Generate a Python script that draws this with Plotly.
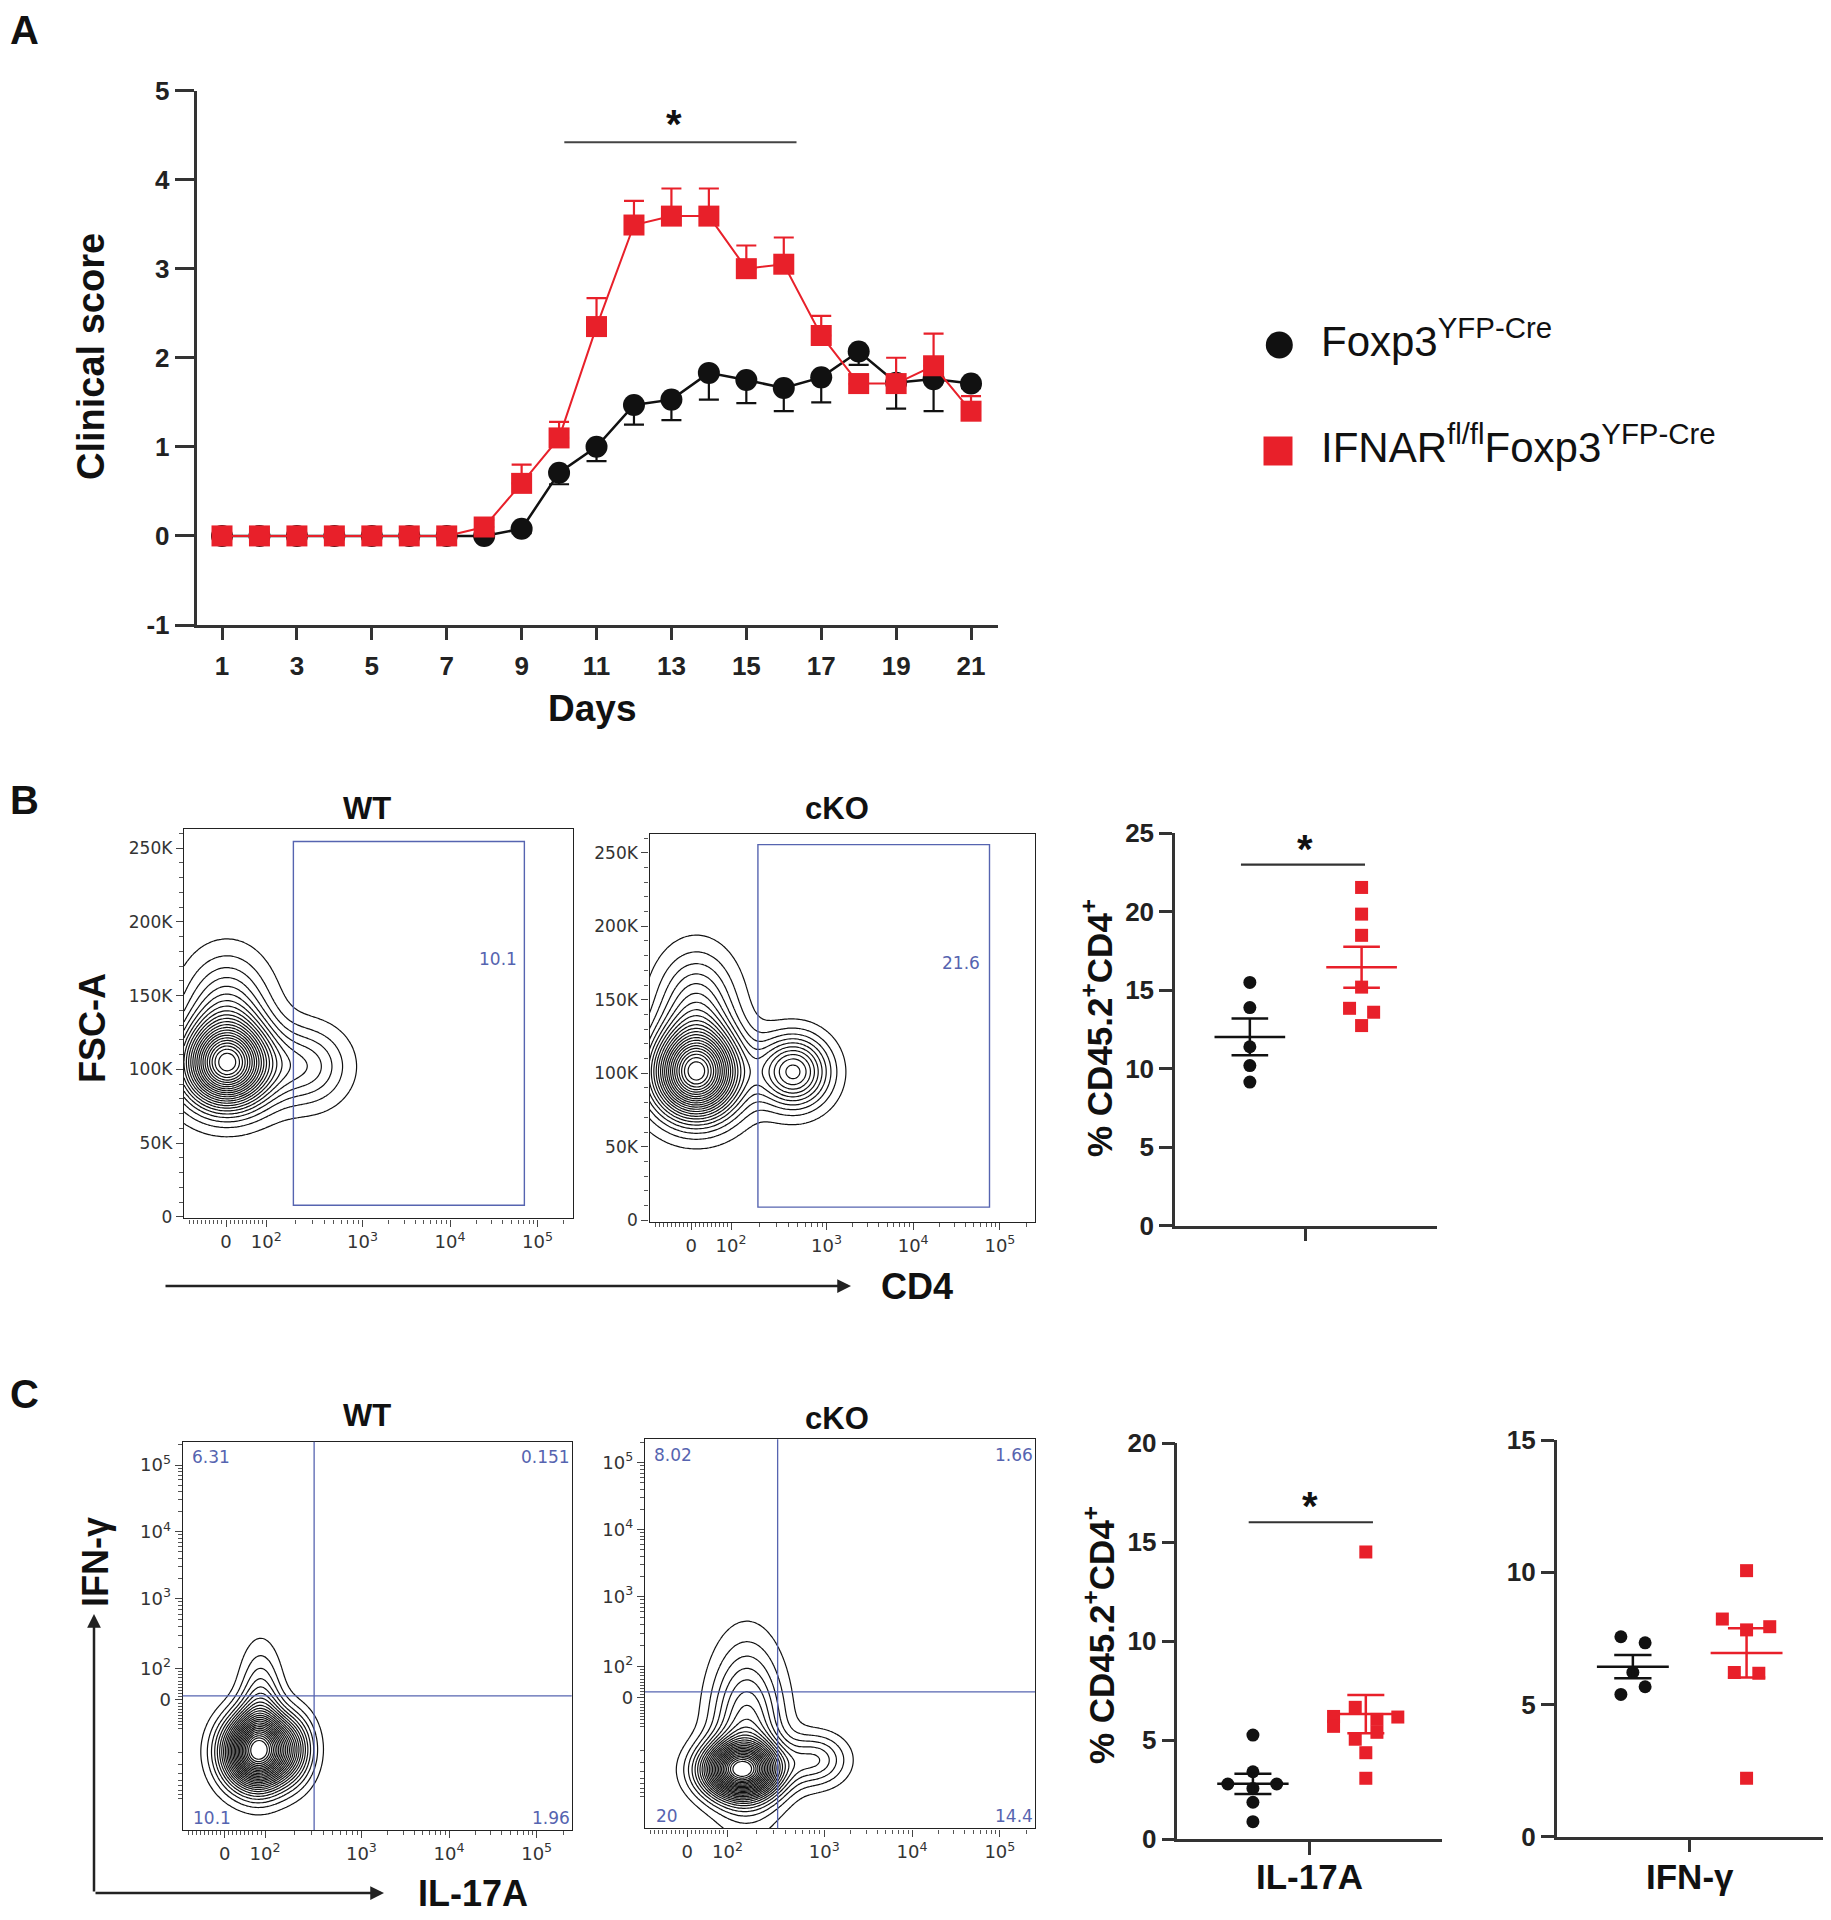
import numpy as np
import plotly.graph_objects as go

# page body has a default 8px margin; the figure is shrunk by it so it fits the 1831x1920 window
OFF = 8
FW, FH = 1831 - OFF, 1920 - OFF
def px(v): return (v - OFF) / FW
def py(v): return 1 - (v - OFF) / FH

# ---------------- Panel A : clinical score ----------------
days = list(range(1, 22))
foxp3_score = [0, 0, 0, 0, 0, 0, 0, 0.00, 0.08, 0.71, 1.00, 1.47, 1.53, 1.83, 1.75, 1.66, 1.78, 2.07, 1.72, 1.76, 1.71]
foxp3_sem   = [0, 0, 0, 0, 0, 0, 0, 0.02, 0.05, 0.13, 0.16, 0.22, 0.23, 0.30, 0.26, 0.26, 0.28, 0.15, 0.29, 0.36, 0.05]
ifnar_score = [0, 0, 0, 0, 0, 0, 0, 0.10, 0.59, 1.10, 2.35, 3.49, 3.59, 3.59, 3.00, 3.05, 2.25, 1.71, 1.71, 1.91, 1.40]
ifnar_sem   = [0, 0, 0, 0, 0, 0, 0, 0.08, 0.21, 0.18, 0.32, 0.27, 0.31, 0.31, 0.26, 0.30, 0.22, 0.10, 0.29, 0.36, 0.17]
day_ticks = [1, 3, 5, 7, 9, 11, 13, 15, 17, 19, 21]
score_ticks = [-1, 0, 1, 2, 3, 4, 5]
sig_A_days = [10.14, 16.34]
sig_A_level = 4.42

# ---------------- Flow axes (display positions of the biexponential scale) ----------------
flow_x_tick_pos = [1.44, 1.90, 3.0, 4.0, 5.0]
flow_log_labels = ["0", "10<sup>2</sup>", "10<sup>3</sup>", "10<sup>4</sup>", "10<sup>5</sup>"]
flow_c_y_tick_pos = [1.48, 1.95, 3.0, 4.0, 5.0]
fsc_ticks = [0, 50000, 100000, 150000, 200000, 250000]
fsc_labels = ["0", "50K", "100K", "150K", "200K", "250K"]

# density components of the contour plots: (centre x, centre y, sd x, sd y, weight)
b_wt_components = [(1.45, 103e3, 0.33, 19e3, 1.0), (1.45, 140e3, 0.32, 25e3, 0.25), (2.35, 102e3, 0.32, 18e3, 0.20)]
b_ko_components = [(1.50, 100e3, 0.33, 20e3, 1.0), (1.50, 145e3, 0.30, 25e3, 0.25), (2.62, 101e3, 0.27, 16e3, 0.45)]
c_wt_components = [(1.80, 0.70, 0.25, 0.36, 1.0), (2.20, 0.75, 0.18, 0.35, 0.25), (1.85, 1.30, 0.16, 0.60, 0.22)]
c_ko_components = [(2.05, 0.40, 0.29, 0.27, 1.0), (2.90, 0.55, 0.24, 0.26, 0.22), (2.12, 1.00, 0.27, 0.80, 0.35)]

b_gates = {"WT": (2.21, 4.85, 7800, 254500), "cKO": (2.21, 4.88, 9000, 255500)}
b_gate_pct = {"WT": "10.1", "cKO": "21.6"}
c_quads = {"WT": (2.46, 1.54), "cKO": (2.47, 1.57)}
c_quad_pct = {"WT": ["6.31", "0.151", "10.1", "1.96"], "cKO": ["8.02", "1.66", "20", "14.4"]}

# ---------------- Dot plots ----------------
b_wt = [15.5, 13.9, 11.4, 10.2, 9.15]
b_wt_dx = [0, 0, 0, 0, 0]
b_ko = [21.55, 19.85, 18.5, 15.2, 13.85, 13.6, 12.75]
b_ko_dx = [0, 0, 0, 0, -0.046, 0.046, 0]
il_wt = [5.26, 3.41, 2.79, 2.79, 2.57, 1.87, 0.89]
il_wt_dx = [0, 0, -0.095, 0.09, 0, 0, 0]
il_ko = [14.5, 6.66, 6.2, 5.7, 6.05, 5.4, 6.17, 5.05, 4.37, 3.08]
il_ko_dx = [0, -0.04, -0.122, -0.122, 0.042, 0.042, 0.121, -0.04, 0, 0]
ifn_wt = [7.56, 7.33, 6.21, 5.38, 5.67]
ifn_wt_dx = [-0.045, 0.046, 0, -0.045, 0.046]
ifn_ko = [10.06, 8.23, 7.82, 7.94, 6.21, 6.18, 2.21]
ifn_ko_dx = [0, -0.091, 0, 0.087, -0.046, 0.046, 0]

BLACK = "#111111"
RED = "#e8202a"
GATE = "#5664b0"
AXC = "#333333"
FONT = "Liberation Sans, Arial, sans-serif"
FLOWFONT = "DejaVu Sans, Verdana, sans-serif"

fig = go.Figure()

# ---- Panel A traces ----
fig.add_trace(go.Scatter(
    x=days, y=foxp3_score, mode="lines+markers", xaxis="x", yaxis="y",
    line=dict(color=BLACK, width=2.5),
    marker=dict(symbol="circle", size=22, color=BLACK),
    error_y=dict(type="data", symmetric=False, array=[0] * len(days), arrayminus=foxp3_sem,
                 color=BLACK, thickness=2.2, width=10),
    showlegend=False, hoverinfo="skip", cliponaxis=False))
fig.add_trace(go.Scatter(
    x=days, y=ifnar_score, mode="lines+markers", xaxis="x", yaxis="y",
    line=dict(color=RED, width=2),
    marker=dict(symbol="square", size=21, color=RED),
    error_y=dict(type="data", symmetric=False, array=ifnar_sem, arrayminus=[0] * len(days),
                 color=RED, thickness=2.2, width=10),
    showlegend=False, hoverinfo="skip", cliponaxis=False))

# ---- Contour plots ----
def density(comps, xs, ys):
    X, Y = np.meshgrid(xs, ys)
    Z = np.zeros_like(X)
    for cx, cy, sx, sy, w in comps:
        Z += w * np.exp(-0.5 * (((X - cx) / sx) ** 2 + ((Y - cy) / sy) ** 2))
    return Z / Z.max()

xs_flow = np.linspace(0.96, 5.40, 220)
ys_fsc = np.linspace(-1000, 263000, 220)
ys_c = np.linspace(-0.47, 5.35, 220)

def contour(comps, xs, ys, xa, ya, step):
    return go.Contour(x=xs, y=ys, z=density(comps, xs, ys), xaxis=xa, yaxis=ya,
                      contours=dict(coloring="lines", start=0.035, end=0.97, size=step),
                      colorscale=[[0, BLACK], [1, BLACK]], showscale=False,
                      line=dict(width=1.2, smoothing=1.0), hoverinfo="skip")

fig.add_trace(contour(b_wt_components, xs_flow, ys_fsc, "x2", "y2", 0.042))
fig.add_trace(contour(b_ko_components, xs_flow, ys_fsc, "x3", "y3", 0.042))
fig.add_trace(contour(c_wt_components, xs_flow, ys_c, "x5", "y5", 0.036))
fig.add_trace(contour(c_ko_components, xs_flow, ys_c, "x6", "y6", 0.036))

# ---- Dot plots ----
def dot_group(vals, dx, center, color, symbol, xa, ya):
    v = np.array(vals, dtype=float)
    m = v.mean()
    s = v.std(ddof=1) / np.sqrt(len(v))
    fig.add_trace(go.Scatter(x=[center + d for d in dx], y=vals, mode="markers", xaxis=xa, yaxis=ya,
                             marker=dict(symbol=symbol, size=13, color=color),
                             showlegend=False, hoverinfo="skip", cliponaxis=False))
    hw, cw = 0.135, 0.07
    fig.add_trace(go.Scatter(
        x=[center - hw, center + hw, None, center - cw, center + cw, None,
           center - cw, center + cw, None, center, center],
        y=[m, m, None, m + s, m + s, None, m - s, m - s, None, m - s, m + s],
        mode="lines", xaxis=xa, yaxis=ya, line=dict(color=color, width=2.5),
        showlegend=False, hoverinfo="skip", cliponaxis=False))

WT_C, KO_C = 0.286, 0.713
dot_group(b_wt, b_wt_dx, WT_C, BLACK, "circle", "x4", "y4")
dot_group(b_ko, b_ko_dx, KO_C, RED, "square", "x4", "y4")
dot_group(il_wt, il_wt_dx, WT_C, BLACK, "circle", "x7", "y7")
dot_group(il_ko, il_ko_dx, KO_C, RED, "square", "x7", "y7")
dot_group(ifn_wt, ifn_wt_dx, WT_C, BLACK, "circle", "x8", "y8")
dot_group(ifn_ko, ifn_ko_dx, KO_C, RED, "square", "x8", "y8")

# ---------------- Axes ----------------
def dom_x(a, b): return [px(a), px(b)]
def dom_y(top, bottom): return [py(bottom), py(top)]

def minor_log(pos_by_decade, extra=()):
    out = list(extra)
    decs = sorted(pos_by_decade)
    for i in range(len(decs) - 1):
        d0, d1 = decs[i], decs[i + 1]
        p0, p1 = pos_by_decade[d0], pos_by_decade[d1]
        for k in range(2, 10):
            out.append(p0 + (p1 - p0) * np.log10(k))
    return out

x_dec = {2: 1.90, 3: 3.0, 4: 4.0, 5: 5.0, 6: 6.0}
x_lin = [1.44 + (1.90 - 1.44) * k / 10 for k in range(1, 10)] + [1.44 - (1.90 - 1.44) * k / 10 for k in range(1, 10)]
flow_x_minor = [v for v in minor_log(x_dec, x_lin) if 0.96 < v < 5.40]
y_dec = {2: 1.95, 3: 3.0, 4: 4.0, 5: 5.0, 6: 6.0}
y_lin = [1.48 + (1.95 - 1.48) * k / 10 for k in range(1, 10)] + [1.48 - (1.95 - 1.48) * k / 10 for k in range(1, 10)]
y_neg = [1.01 - 1.05 * np.log10(k) for k in range(2, 10)]
flow_y_minor = [v for v in minor_log(y_dec, y_lin + y_neg) if -0.47 < v < 5.35]

def flow_xaxis(domain, anchor):
    return dict(domain=domain, anchor=anchor, range=[0.96, 5.40], showline=True, linecolor="#222",
                linewidth=1.4, mirror=True, ticks="outside", ticklen=7, tickwidth=1.2, tickcolor="#444",
                tickvals=flow_x_tick_pos, ticktext=flow_log_labels,
                tickfont=dict(family=FLOWFONT, size=18, color="#333"),
                minor=dict(tickvals=flow_x_minor, ticklen=4, tickwidth=1, tickcolor="#555", ticks="outside"),
                showgrid=False, zeroline=False, automargin=False)

def flow_fsc_yaxis(domain, anchor):
    return dict(domain=domain, anchor=anchor, range=[-1000, 263000], showline=True, linecolor="#222",
                linewidth=1.4, mirror=True, ticks="outside", ticklen=7, tickwidth=1.2, tickcolor="#444",
                tickvals=fsc_ticks, ticktext=fsc_labels,
                tickfont=dict(family=FLOWFONT, size=17, color="#333"),
                minor=dict(tickvals=list(range(0, 260001, 10000)), ticklen=4, tickwidth=1,
                           tickcolor="#555", ticks="outside"),
                showgrid=False, zeroline=False, automargin=False)

def flow_log_yaxis(domain, anchor):
    return dict(domain=domain, anchor=anchor, range=[-0.47, 5.35], showline=True, linecolor="#222",
                linewidth=1.4, mirror=True, ticks="outside", ticklen=7, tickwidth=1.2, tickcolor="#444",
                tickvals=flow_c_y_tick_pos, ticktext=flow_log_labels,
                tickfont=dict(family=FLOWFONT, size=18, color="#333"),
                minor=dict(tickvals=flow_y_minor, ticklen=4, tickwidth=1, tickcolor="#555", ticks="outside"),
                showgrid=False, zeroline=False, automargin=False)

def dot_xaxis(domain, anchor):
    return dict(domain=domain, anchor=anchor, range=[0, 1], showline=True, linecolor=AXC, linewidth=2.5,
                ticks="outside", ticklen=13, tickwidth=2.5, tickcolor=AXC, tickvals=[0.5], ticktext=[""],
                showgrid=False, zeroline=False, automargin=False)

def dot_yaxis(domain, anchor, top):
    return dict(domain=domain, anchor=anchor, range=[0, top], showline=True, linecolor=AXC, linewidth=2.5,
                ticks="outside", ticklen=13, tickwidth=2.5, tickcolor=AXC, tickvals=list(range(0, top + 1, 5)),
                tickfont=dict(family=FONT, size=26, color="#222", weight="bold"),
                showgrid=False, zeroline=False, automargin=False)

layout = dict(
    width=FW, height=FH, margin=dict(l=0, r=0, t=0, b=0, pad=0, autoexpand=False),
    paper_bgcolor="white", plot_bgcolor="rgba(0,0,0,0)", showlegend=False,
    xaxis=dict(domain=dom_x(196.5, 998), anchor="y", range=[0.319, 21.72], showline=True, linecolor=AXC,
               linewidth=2.5, ticks="outside", ticklen=12, tickwidth=2.5, tickcolor=AXC, tickvals=day_ticks,
               tickfont=dict(family=FONT, size=26, color="#222", weight="bold"), showgrid=False, zeroline=False,
               ticklabelstandoff=4, automargin=False),
    yaxis=dict(domain=dom_y(90.5, 625), anchor="x", range=[-1, 5], showline=True, linecolor=AXC,
               linewidth=2.5, ticks="outside", ticklen=19, tickwidth=2.5, tickcolor=AXC, tickvals=score_ticks,
               ticktext=[str(v) for v in score_ticks],
               tickfont=dict(family=FONT, size=26, color="#222", weight="bold"), showgrid=False, zeroline=False,
               automargin=False),
    xaxis2=flow_xaxis(dom_x(184, 572.5), "y2"),
    yaxis2=flow_fsc_yaxis(dom_y(829, 1218.3), "x2"),
    xaxis3=flow_xaxis(dom_x(649.5, 1034.6), "y3"),
    yaxis3=flow_fsc_yaxis(dom_y(833.6, 1221.8), "x3"),
    xaxis4=dot_xaxis(dom_x(1175, 1436.7), "y4"),
    yaxis4=dot_yaxis(dom_y(833.3, 1225.7), "x4", 25),
    xaxis5=flow_xaxis(dom_x(182.7, 571.7), "y5"),
    yaxis5=flow_log_yaxis(dom_y(1441.7, 1830), "x5"),
    xaxis6=flow_xaxis(dom_x(645, 1035), "y6"),
    yaxis6=flow_log_yaxis(dom_y(1439.3, 1828.3), "x6"),
    xaxis7=dot_xaxis(dom_x(1177.3, 1441.7), "y7"),
    yaxis7=dot_yaxis(dom_y(1443, 1839.3), "x7", 20),
    xaxis8=dot_xaxis(dom_x(1556.7, 1823), "y8"),
    yaxis8=dot_yaxis(dom_y(1440, 1836.7), "x8", 15),
)
fig.update_layout(**layout)

shapes = []
anns = []

def text(x, y, s, size, bold=True, color="#111", angle=0, xanchor="center", yanchor="middle",
         xref="paper", yref="paper", family=FONT, yshift=0):
    anns.append(dict(x=x, y=y, xref=xref, yref=yref, text=s, showarrow=False, textangle=angle,
                     xanchor=xanchor, yanchor=yanchor, yshift=yshift,
                     font=dict(family=family, size=size, color=color, weight="bold" if bold else "normal")))

def arrow(x_head, y_head, x_tail, y_tail):
    anns.append(dict(x=px(x_head), y=py(y_head), xref="paper", yref="paper",
                     ax=x_tail - x_head, ay=y_tail - y_head, text="",
                     showarrow=True, arrowhead=2, arrowsize=1.1, arrowwidth=2.5, arrowcolor="#222"))

# Panel letters
text(px(24), py(30), "A", 40)
text(px(24), py(800), "B", 40)
text(px(24), py(1394), "C", 40)

# Panel A titles, significance and legend
text(px(91), py(357), "Clinical score", 38, angle=-90)
text(px(592), py(708), "Days", 37)
shapes.append(dict(type="line", xref="x", yref="y", x0=sig_A_days[0], x1=sig_A_days[1],
                   y0=sig_A_level, y1=sig_A_level, line=dict(color="#444", width=2)))
text(sum(sig_A_days) / 2 - 0.17, sig_A_level + 0.31, "*", 40, xref="x", yref="y", yshift=-9)

shapes.append(dict(type="circle", xref="paper", yref="paper", fillcolor=BLACK, line=dict(width=0),
                   x0=px(1279.3 - 13.5), x1=px(1279.3 + 13.5), y0=py(345 + 13.5), y1=py(345 - 13.5)))
shapes.append(dict(type="rect", xref="paper", yref="paper", fillcolor=RED, line=dict(width=0),
                   x0=px(1278 - 14.5), x1=px(1278 + 14.5), y0=py(451 + 14.5), y1=py(451 - 14.5)))
text(px(1319), py(338), "Foxp3<sup>YFP-Cre</sup>", 42, bold=False, xanchor="left")
text(px(1319), py(444), "IFNAR<sup>fl/fl</sup>Foxp3<sup>YFP-Cre</sup>", 42, bold=False, xanchor="left")

# Panel B flow
text(px(367), py(808.6), "WT", 31)
text(px(837), py(808.6), "cKO", 31)
text(px(92), py(1028), "FSC-A", 36, angle=-90)
text(px(917), py(1286), "CD4", 36)
arrow(851, 1286, 164, 1286)
for key, (xa, ya) in {"WT": ("x2", "y2"), "cKO": ("x3", "y3")}.items():
    x0, x1, y0, y1 = b_gates[key]
    shapes.append(dict(type="rect", xref=xa, yref=ya, x0=x0, x1=x1, y0=y0, y1=y1,
                       line=dict(color=GATE, width=1.4)))
    text(4.55, 175000, b_gate_pct[key], 17, bold=False, color=GATE, xref=xa, yref=ya, family=FLOWFONT)

# Panel B dot plot
text(px(1097), py(1028), "% CD45.2<sup>+</sup>CD4<sup>+</sup>", 35, angle=-90)
shapes.append(dict(type="line", xref="x4", yref="y4", x0=0.252, x1=0.726, y0=23.0, y1=23.0,
                   line=dict(color="#333", width=2.2)))
text(0.497, 24.6, "*", 40, xref="x4", yref="y4", yshift=-9)

# Panel C flow
text(px(367), py(1415.6), "WT", 31)
text(px(837), py(1418), "cKO", 31)
text(px(95), py(1562), "IFN-γ", 36, angle=-90)
text(px(473), py(1893), "IL-17A", 36)
arrow(94, 1614, 94, 1893)
arrow(384, 1893, 94, 1893)
for key, (xa, ya) in {"WT": ("x5", "y5"), "cKO": ("x6", "y6")}.items():
    qx, qy = c_quads[key]
    shapes.append(dict(type="line", xref=xa, yref=ya + " domain", x0=qx, x1=qx, y0=0, y1=1,
                       line=dict(color=GATE, width=1.3)))
    shapes.append(dict(type="line", xref=xa + " domain", yref=ya, x0=0, x1=1, y0=qy, y1=qy,
                       line=dict(color=GATE, width=1.3)))
    tl, tr, bl, br = c_quad_pct[key]
    text(1.04, 5.12, tl, 17, bold=False, color=GATE, xref=xa, yref=ya, xanchor="left", family=FLOWFONT)
    text(5.40, 5.12, tr, 17, bold=False, color=GATE, xref=xa, yref=ya, xanchor="right", family=FLOWFONT)
    text(1.06, -0.29, bl, 17, bold=False, color=GATE, xref=xa, yref=ya, xanchor="left", family=FLOWFONT)
    text(5.40, -0.29, br, 17, bold=False, color=GATE, xref=xa, yref=ya, xanchor="right", family=FLOWFONT)

# Panel C dot plots
text(px(1099), py(1635), "% CD45.2<sup>+</sup>CD4<sup>+</sup>", 35, angle=-90)
shapes.append(dict(type="line", xref="x7", yref="y7", x0=0.27, x1=0.74, y0=16.0, y1=16.0,
                   line=dict(color="#333", width=2.2)))
text(0.5, 17.3, "*", 40, xref="x7", yref="y7", yshift=-9)
text(px(1309.5), py(1876), "IL-17A", 35)
text(px(1690), py(1876), "IFN-γ", 35)

fig.update_layout(shapes=shapes, annotations=anns)
fig.write_html("out.html")
